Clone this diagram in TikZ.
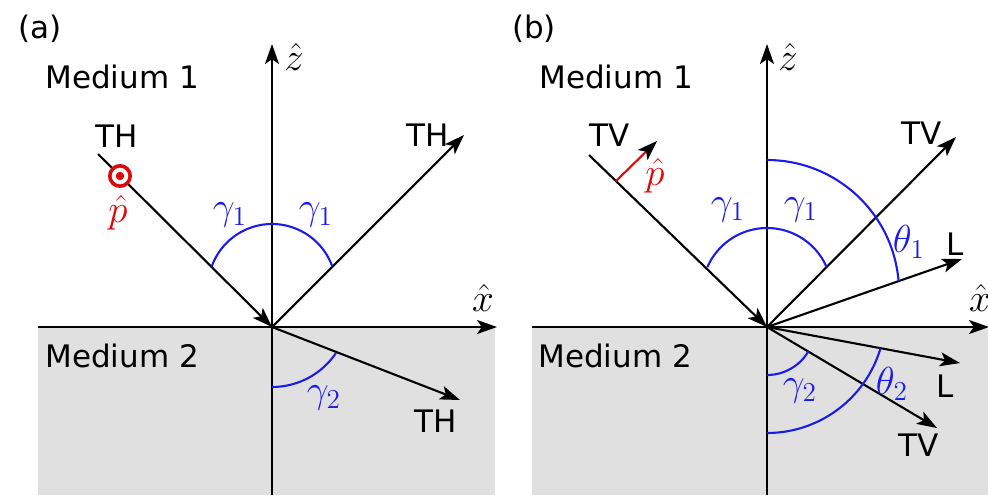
\RequirePackage{fix-cm}
\documentclass[tikz,border=0pt]{standalone}
\usepackage{fontspec}
\setmainfont{DejaVu Sans}
\usetikzlibrary{arrows.meta}
\definecolor{mblue}{RGB}{28,28,232}
\definecolor{mred}{RGB}{222,10,10}
\definecolor{mgray}{RGB}{224,224,224}
\begin{document}
\begin{tikzpicture}[x=0.5pt,y=0.5pt,
  tip/.style={-{Stealth[length=10pt,width=7pt,inset=2.4pt]}},
  axis/.style={line width=1.05pt, tip},
  ray/.style={line width=1.05pt, tip},
  ang/.style={draw=mblue, line width=1.05pt},
  txt/.style={font=\fontsize{15.5}{18}\selectfont, inner sep=0pt},
  mth/.style={font=\fontsize{19.5}{23}\selectfont, inner sep=0pt},
  bl/.style={mth, text=mblue},
  rd/.style={mth, text=mred}]
\useasboundingbox (-272,-168) rectangle (716,327);
% ---------------- panel (a)
\begin{scope}
  \coordinate (Oa) at (0,0);
  \fill[mgray] (-234,-168) rectangle (223,0);
  \coordinate (xa0) at (-234,0);
  \coordinate (xa1) at (225,0);
  \coordinate (za0) at (0,-168);
  \coordinate (za1) at (0,283);
  \draw[axis] (xa0) -- (xa1);
  \draw[axis] (za0) -- (za1);
  \node[mth] (xha) at (211,29) {$\hat{x}$};
  \node[mth] (zha) at (22,270) {$\hat{z}$};
  \node[txt] (laba) at (-232,298) {(a)};
  \node[txt, anchor=base west] (m1a) at (-227,239) {Medium 1};
  \node[txt, anchor=base west] (m2a) at (-227,-40) {Medium 2};
  \coordinate (ia) at (-174,173);
  \coordinate (ra) at (192,192);
  \coordinate (ta) at (188,-73);
  \draw[ray] (ia) -- (Oa);
  \draw[ray] (Oa) -- (ra);
  \draw[ray] (Oa) -- (ta);
  \draw[ang] (0,39) ++(19.5:64) arc[start angle=19.5, end angle=160.5, radius=64];
  \draw[ang] (0,17.2) ++(-90:77.2) arc[start angle=-90, end angle=-34, radius=77.2];
  \node[circle, draw=mred, fill=white, line width=1.8pt, minimum size=10.2pt, inner sep=0pt] (pdot) at (-152,151) {};
  \fill[mred] (pdot.center) circle[radius=4.2];
  \node[rd] (pha) at (-154,114) {$\hat{p}$};
  \node[txt] (tha1) at (-155,191) {TH};
  \node[txt] (tha2) at (156,192) {TH};
  \node[txt] (tha3) at (164,-94) {TH};
  \node[bl] (g1la) at (-42,112) {$\gamma_1$};
  \node[bl] (g1ra) at (44,112) {$\gamma_1$};
  \node[bl] (g2a) at (52,-71) {$\gamma_2$};
\end{scope}
% ---------------- panel (b)
\begin{scope}[shift={(495,0)}]
  \coordinate (Ob) at (0,0);
  \fill[mgray] (-235,-168) rectangle (221,0);
  \coordinate (xb0) at (-235,0);
  \coordinate (xb1) at (222,0);
  \coordinate (zb0) at (0,-168);
  \coordinate (zb1) at (0,283);
  \draw[axis] (xb0) -- (xb1);
  \draw[axis] (zb0) -- (zb1);
  \node[mth] (xhb) at (213,29) {$\hat{x}$};
  \node[mth] (zhb) at (21,270) {$\hat{z}$};
  \node[txt] (labb) at (-233,298) {(b)};
  \node[txt, anchor=base west] (m1b) at (-228,239) {Medium 1};
  \node[txt, anchor=base west] (m2b) at (-229,-40) {Medium 2};
  \coordinate (ib) at (-178,172);
  \coordinate (rb) at (189,190);
  \coordinate (lu) at (195,68);
  \coordinate (ll) at (193,-36);
  \coordinate (tb) at (170,-101);
  \draw[ray] (ib) -- (Ob);
  \draw[ray] (Ob) -- (rb);
  \draw[ray] (Ob) -- (lu);
  \draw[ray] (Ob) -- (ll);
  \draw[ray] (Ob) -- (tb);
  \coordinate (pb0) at (-151,146);
  \coordinate (pb1) at (-110,186);
  \draw[draw=mred, line width=1.05pt, -{Stealth[length=10pt,width=7pt,inset=2.4pt,color=black]}] (pb0) -- (pb1);
  \node[rd] (phb) at (-112,151) {$\hat{p}$};
  \draw[ang] (0,34) ++(23.3:65) arc[start angle=23.3, end angle=156.7, radius=65];
  \draw[ang] (0,35) ++(4.7:132) arc[start angle=4.7, end angle=90, radius=132];
  \draw[ang] (0,0) ++(-90:48) arc[start angle=-90, end angle=-30.6, radius=48];
  \draw[ang] (0,12.4) ++(-90:118.4) arc[start angle=-90, end angle=-16.5, radius=118.4];
  \node[txt] (tvb1) at (-157,192) {TV};
  \node[txt] (tvb2) at (155,194) {TV};
  \node[txt] (tvb3) at (152,-118) {TV};
  \node[txt] (lb1) at (188,83) {L};
  \node[txt] (lb2) at (178,-59) {L};
  \node[bl] (g1lb) at (-39,117) {$\gamma_1$};
  \node[bl] (g1rb) at (34,117) {$\gamma_1$};
  \node[bl] (g2b) at (33,-64) {$\gamma_2$};
  \node[bl] (t1b) at (142,85) {$\theta_1$};
  \node[bl] (t2b) at (125,-57) {$\theta_2$};
\end{scope}
\end{tikzpicture}
\end{document}
